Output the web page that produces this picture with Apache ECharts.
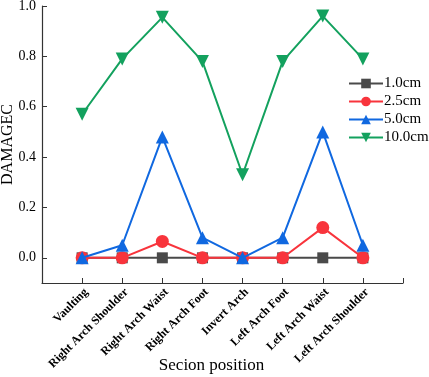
<!DOCTYPE html>
<html>
<head>
<meta charset="utf-8">
<script src="https://cdn.jsdelivr.net/npm/echarts@6/dist/echarts.min.js"></script>
<style>
  html, body { margin: 0; padding: 0; background: #fff; }
  #chart { width: 429px; height: 377px; }
</style>
</head>
<body>
<div id="chart"></div>
<script>
const categories = ['Vaulting', 'Right Arch Shoulder', 'Right Arch Waist', 'Right Arch Foot',
  'Invert Arch', 'Left Arch Foot', 'Left Arch Waist', 'Left Arch Shoulder']
const seriesNames = ['1.0cm', '2.5cm', '5.0cm', '10.0cm']
const d10 = [0, 0, 0, 0, 0, 0, 0, 0]
const d25 = [0, 0, 0.065, 0, 0, 0, 0.12, 0]
const d50 = [0, 0.05, 0.48, 0.08, 0, 0.08, 0.50, 0.05]
const d100 = [0.57, 0.79, 0.955, 0.78, 0.33, 0.78, 0.96, 0.79]
const yTicks = ['0.0', '0.2', '0.4', '0.6', '0.8', '1.0']

const font = '"Liberation Serif", "Times New Roman", serif'
const colors = ['#4a4a4a', '#f8343c', '#1068e0', '#13a15e']
const symbols = ['rect', 'circle', 'triangle', 'triangle']
const rotates = [0, 0, 0, 180]
const allData = [d10, d25, d50, d100]

const chart = echarts.init(document.getElementById('chart'))

const series = allData.map((arr, i) => ({
  name: seriesNames[i],
  type: 'line',
  data: arr.map((v, j) => [j + 1, v]),
  symbol: symbols[i],
  symbolSize: i === 0 ? 11 : 13,
  symbolRotate: rotates[i],
  color: colors[i],
  lineStyle: { width: 2, color: colors[i] },
  itemStyle: { color: colors[i] },
  z: 2 + i
}))

const option = {
  animation: false,
  grid: { left: 42, right: 26, top: 6, bottom: 94, outerBoundsMode: 'none', containLabel: false },
  legend: {
    orient: 'vertical',
    left: 348,
    top: 76,
    padding: 0,
    itemWidth: 34,
    itemHeight: 12,
    itemGap: 3,
    textStyle: { fontFamily: font, fontSize: 15, color: '#000', padding: [0, 0, 0, -4] },
    data: seriesNames
  },
  xAxis: {
    type: 'value',
    min: 0,
    max: 9,
    interval: 1,
    name: 'Secion position',
    nameLocation: 'middle',
    nameMoveOverlap: false,
    nameGap: 74,
    nameTextStyle: { fontFamily: font, fontSize: 17, color: '#000', padding: [0, 22, 0, 0] },
    axisLine: { onZero: false, lineStyle: { color: '#333', width: 1.2 } },
    axisTick: { inside: true, length: 5, lineStyle: { color: '#333' } },
    splitLine: { show: false },
    axisLabel: {
      rotate: 45,
      margin: 3,
      verticalAlign: 'top',
      fontFamily: font,
      fontWeight: 'bold',
      fontSize: 12,
      color: '#000',
      formatter: v => categories[v - 1] || ''
    }
  },
  yAxis: {
    type: 'value',
    min: -0.1,
    max: 1.0,
    name: 'DAMAGEC',
    nameLocation: 'middle',
    nameMoveOverlap: false,
    nameGap: 26,
    nameTextStyle: { fontFamily: font, fontSize: 16, color: '#000' },
    axisLine: { show: true, onZero: false, lineStyle: { color: '#333', width: 1.2 } },
    axisTick: { inside: true, length: 5, lineStyle: { color: '#333' },
      customValues: [0, 0.2, 0.4, 0.6, 0.8, 1.0] },
    splitLine: { show: false },
    axisLabel: {
      fontFamily: font,
      fontSize: 14,
      color: '#000',
      margin: 6,
      customValues: [0, 0.2, 0.4, 0.6, 0.8, 1.0],
      formatter: v => yTicks[Math.round(v * 5)]
    }
  },
  series: series
}

chart.setOption(option)
</script>
</body>
</html>
